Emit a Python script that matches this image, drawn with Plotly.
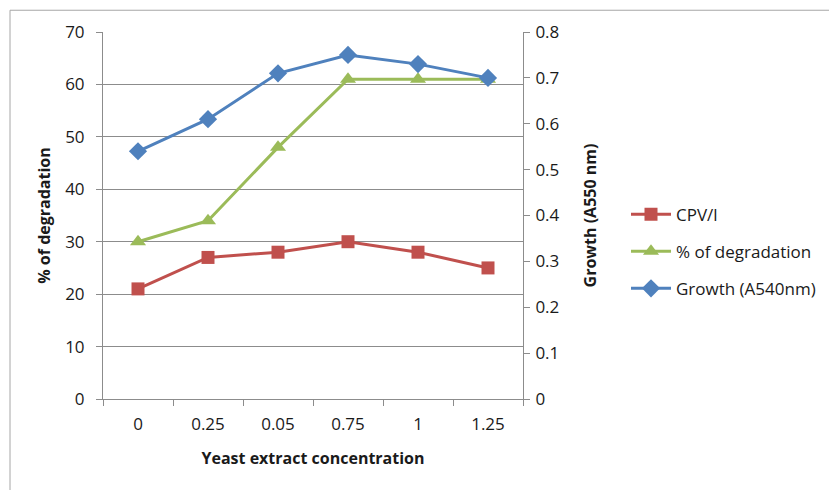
import plotly.graph_objects as go

categories = ["0", "0.25", "0.05", "0.75", "1", "1.25"]
cpv = [21, 27, 28, 30, 28, 25]
degradation = [30, 34, 48, 61, 61, 61]
growth = [0.54, 0.61, 0.71, 0.75, 0.73, 0.70]

OFF = 8  # browser body margin
W, H = 837 - OFF, 490 - OFF
L, R, T, B = 103 - OFF, 523 - OFF, 28 - OFF, 399 - OFF
pw, ph = R - L, B - T

def px(x):
    return (x - OFF - L) / pw

def py(y):
    return (B - (y - OFF)) / ph

font = "Open Sans"
fig = go.Figure()
fig.add_trace(go.Scatter(x=categories, y=cpv, name="CPV/l", mode="lines+markers",
                         legendgroup="a",
                         line=dict(color="#C0504D", width=3),
                         marker=dict(symbol="square", size=13, color="#C0504D")))
fig.add_trace(go.Scatter(x=categories, y=degradation, name="% of degradation", mode="lines+markers",
                         legendgroup="b",
                         line=dict(color="#9BBB59", width=3),
                         marker=dict(symbol="triangle-up", size=14, color="#9BBB59")))
fig.add_trace(go.Scatter(x=categories, y=growth, name="Growth (A540nm)", mode="lines+markers",
                         legendgroup="c", yaxis="y2",
                         line=dict(color="#4F81BD", width=3),
                         marker=dict(symbol="diamond", size=14, color="#4F81BD")))

fig.update_layout(
    width=W, height=H,
    margin=dict(l=L, r=W - R, t=T, b=H - B),
    paper_bgcolor="white", plot_bgcolor="white",
    font=dict(family=font, size=17, color="#1a1a1a"),
    showlegend=True,
    legend=dict(x=px(626), y=py(250), xanchor="left", yanchor="middle",
                font=dict(size=17, color="#1a1a1a"), traceorder="grouped",
                itemwidth=40, tracegroupgap=12, bgcolor="rgba(0,0,0,0)"),
    xaxis=dict(type="category", range=[-0.5, 5.5], showgrid=False,
               showline=True, linecolor="#8C8C8C", linewidth=1,
               ticks="outside", tickson="boundaries", ticklen=6, tickcolor="#8C8C8C",
               tickfont=dict(size=17), zeroline=False, ticklabelstandoff=10,
               title=dict(text="<b>Yeast extract concentration</b>", font=dict(size=16), standoff=18)),
    yaxis=dict(range=[0, 70], dtick=10, showgrid=True, gridcolor="#8C8C8C", gridwidth=1,
               showline=True, linecolor="#8C8C8C", ticks="outside", ticklen=6, tickcolor="#8C8C8C",
               zeroline=False, tickfont=dict(size=17), ticklabelstandoff=8,
               title=dict(text="<b>% of degradation</b>", font=dict(size=16), standoff=10)),
    yaxis2=dict(range=[0, 0.8], dtick=0.1, overlaying="y", side="right", showgrid=False,
                showline=True, linecolor="#8C8C8C", ticks="outside", ticklen=6, tickcolor="#8C8C8C",
                zeroline=False, tickfont=dict(size=17), ticklabelstandoff=2,
                title=dict(text="<b>Growth (A550 nm)</b>", font=dict(size=16), standoff=26)),
    shapes=[dict(type="rect", xref="paper", yref="paper",
                 x0=px(10), x1=px(845), y0=py(495), y1=py(6),
                 line=dict(color="#A6A6A6", width=1), fillcolor="rgba(0,0,0,0)", layer="below")],
)

fig.write_html("out.html")
